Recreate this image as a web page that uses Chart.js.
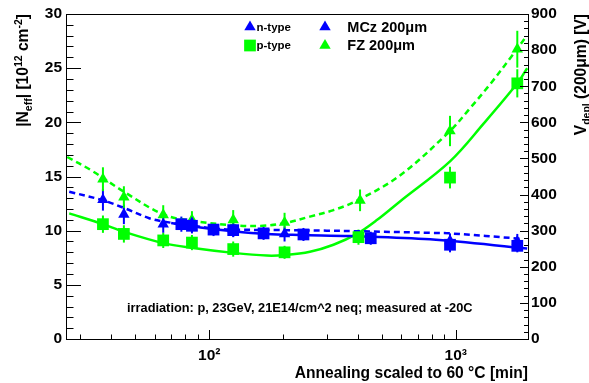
<!DOCTYPE html>
<html>
<head>
<meta charset="utf-8">
<script src="https://cdn.jsdelivr.net/npm/chart.js@4.4.1/dist/chart.umd.min.js"></script>
<style>
  html, body { margin: 0; padding: 0; background: #fff; }
</style>
</head>
<body>
<canvas id="chart" width="589" height="383"></canvas>
<script>
const BLUE = "#0000ff";
const GREEN = "#00ff00";
const FONT = "'Liberation Sans', Arial, Helvetica, sans-serif";

// measured points: annealing time [min], |Neff| [1e12 cm^-2], error
const nFzTime = [37, 45, 65, 85, 125, 202, 409, 948, 1778];
const nFzNeff = [14.75, 13.1, 11.45, 11.0, 11.0, 10.75, 12.8, 19.2, 26.75];
const nFzErr  = [1.1, 1.0, 0.9, 0.8, 0.9, 0.9, 1.0, 1.4, 1.7];

const pFzTime = [37, 45, 65, 85, 125, 202, 403, 948, 1778];
const pFzNeff = [10.6, 9.7, 9.1, 8.9, 8.3, 8.0, 9.4, 14.9, 23.6];
const pFzErr  = [0.8, 0.8, 0.7, 0.7, 0.7, 0.6, 0.7, 1.0, 1.3];

const nMczTime = [37, 45, 65, 85, 125, 202, 948, 1778];
const nMczNeff = [12.85, 11.5, 10.6, 10.7, 10.1, 9.7, 9.05, 9.0];
const nMczErr  = [1.0, 0.9, 0.8, 0.8, 0.7, 0.7, 0.7, 0.7];

const pMczTime = [77, 85, 104, 125, 166, 241, 452, 948, 1778];
const pMczNeff = [10.6, 10.45, 10.1, 10.05, 9.75, 9.65, 9.3, 8.7, 8.6];
const pMczErr  = [0.7, 0.7, 0.6, 0.6, 0.6, 0.6, 0.6, 0.7, 0.6];

// fit curves
const nFzFitTime = [26.5, 33, 45, 65, 86, 125, 165, 203, 256, 319, 400, 594, 948, 1143, 1377, 1687, 1900];
const nFzFitNeff = [16.8, 15.6, 13.6, 11.5, 10.9, 10.5, 10.45, 10.7, 11.3, 11.9, 12.8, 15.1, 19.2, 21.3, 23.5, 26.1, 27.7];

const pFzFitTime = [27, 37, 45, 65, 86, 125, 171, 203, 256, 319, 397, 480, 594, 948, 1300, 1778, 1950];
const pFzFitNeff = [11.6, 10.6, 9.9, 8.85, 8.4, 7.95, 7.7, 7.75, 8.05, 8.7, 9.7, 11.0, 12.7, 16.4, 19.9, 23.6, 25.0];

const nMczFitTime = [27, 37, 45, 57, 65, 86, 104, 125, 200, 300, 400, 800, 948, 1850];
const nMczFitNeff = [13.6, 12.8, 12.1, 11.15, 10.85, 10.45, 10.2, 10.1, 10.05, 10.0, 9.95, 9.8, 9.75, 9.25];

const pMczFitTime = [70, 92, 125, 171, 233, 372, 787, 1950];
const pMczFitNeff = [10.7, 10.3, 9.95, 9.7, 9.6, 9.5, 9.2, 8.35];

// x tick positions (log axis), labels only on the decades
const xTickValues = [30, 40, 50, 60, 70, 80, 90, 100, 200, 300, 400, 500, 600, 700, 800, 900, 1000];
const xTickLabels = { 100: "10\u00b2", 1000: "10\u00b3" };

const pts = (xs, ys) => xs.map((x, i) => ({ x: x, y: ys[i] }));

function pointSet(xs, ys, errs, color, style, order) {
  return {
    data: pts(xs, ys),
    errors: errs,
    showLine: false,
    pointStyle: style,
    pointRadius: style === "rect" ? 8.3 : 6.6,
    backgroundColor: color,
    borderColor: color,
    pointBorderWidth: 0,
    order: order,
  };
}

function fitSet(xs, ys, color, dashed) {
  return {
    data: pts(xs, ys),
    showLine: true,
    pointRadius: 0,
    borderColor: color,
    borderWidth: 2.5,
    borderDash: dashed ? [6, 4] : [],
    tension: 0.35,
    order: 3,
  };
}

function drawRich(ctx, parts, x, y, rot) {
  // parts: [text, size, dy]; text is right-aligned at (x, y) in rotated frame
  ctx.save();
  ctx.translate(x, y);
  ctx.rotate(rot);
  ctx.fillStyle = "#000";
  ctx.textBaseline = "alphabetic";
  let w = 0;
  parts.forEach(p => { ctx.font = `bold ${p[1]}px ${FONT}`; w += ctx.measureText(p[0]).width; });
  let cx = -w;
  parts.forEach(p => {
    ctx.font = `bold ${p[1]}px ${FONT}`;
    ctx.fillText(p[0], cx, p[2]);
    cx += ctx.measureText(p[0]).width;
  });
  ctx.restore();
}

function marker(ctx, style, x, y, color) {
  ctx.fillStyle = color;
  ctx.beginPath();
  if (style === "rect") {
    const s = 8.3 * Math.SQRT1_2;
    ctx.rect(x - s, y - s, 2 * s, 2 * s);
  } else {
    const r = 6.6;
    ctx.moveTo(x, y - r);
    ctx.lineTo(x + r * 0.866, y + r * 0.5);
    ctx.lineTo(x - r * 0.866, y + r * 0.5);
    ctx.closePath();
  }
  ctx.fill();
}

const errorBars = {
  id: "errorBars",
  beforeDatasetsDraw(chart) {
    const ctx = chart.ctx;
    const xs = chart.scales.x, ys = chart.scales.y;
    chart.data.datasets.forEach(ds => {
      if (!ds.errors) return;
      ctx.save();
      ctx.strokeStyle = ds.backgroundColor;
      ctx.lineWidth = 2;
      ds.data.forEach((p, i) => {
        const px = xs.getPixelForValue(p.x);
        ctx.beginPath();
        ctx.moveTo(px, ys.getPixelForValue(p.y - ds.errors[i]));
        ctx.lineTo(px, ys.getPixelForValue(p.y + ds.errors[i]));
        ctx.stroke();
      });
      ctx.restore();
    });
  }
};

const frameAndText = {
  id: "frameAndText",
  afterDraw(chart) {
    const ctx = chart.ctx;
    const a = chart.chartArea;
    const xs = chart.scales.x, ys = chart.scales.y, y2 = chart.scales.y2;
    ctx.save();
    ctx.strokeStyle = "#000";
    ctx.lineWidth = 1;
    ctx.strokeRect(Math.round(a.left) + 0.5, Math.round(a.top) + 0.5,
                   Math.round(a.right - a.left), Math.round(a.bottom - a.top));
    ctx.beginPath();
    for (let v = 0; v <= 30; v++) {
      const py = Math.round(ys.getPixelForValue(v)) + 0.5;
      const len = v % 5 === 0 ? 15 : 7.5;
      ctx.moveTo(a.left, py); ctx.lineTo(a.left + len, py);
    }
    for (let v = 0; v <= 900; v += 20) {
      const py = Math.round(y2.getPixelForValue(v)) + 0.5;
      const len = v % 100 === 0 ? 8 : 4;
      ctx.moveTo(a.right, py); ctx.lineTo(a.right - len, py);
    }
    xTickValues.forEach(v => {
      const px = Math.round(xs.getPixelForValue(v)) + 0.5;
      const len = xTickLabels[v] ? 9 : 4.5;
      ctx.moveTo(px, a.bottom); ctx.lineTo(px, a.bottom - len);
    });
    ctx.stroke();

    // axis titles
    ctx.fillStyle = "#000";
    ctx.font = `bold 15.6px ${FONT}`;
    ctx.textAlign = "right";
    ctx.textBaseline = "alphabetic";
    ctx.fillText("Annealing scaled to 60 \u00b0C [min]", a.right, 377.5);
    ctx.textAlign = "left";
    drawRich(ctx, [["|N", 15.6, 0], ["eff", 10.5, 4], ["| [10", 15.6, 0], ["12", 10.5, -6.5],
                   [" cm", 15.6, 0], ["-2", 10.5, -6.5], ["]", 15.6, 0]], 28, a.top, -Math.PI / 2);
    drawRich(ctx, [["V", 15.6, 0], ["depl", 10.5, 4], [" (200\u03bcm) [V]", 15.6, 0]], 586, a.top, -Math.PI / 2);

    // legend
    marker(ctx, "triangle", 250, 27, BLUE);
    marker(ctx, "rect", 250, 45.5, GREEN);
    marker(ctx, "triangle", 325, 27, BLUE);
    marker(ctx, "triangle", 325, 45.5, GREEN);
    ctx.fillStyle = "#000";
    ctx.font = `bold 11.5px ${FONT}`;
    ctx.fillText("n-type", 256.5, 30.5);
    ctx.fillText("p-type", 256.5, 49);
    ctx.font = `bold 14.5px ${FONT}`;
    ctx.fillText("MCz 200\u03bcm", 347.3, 31.7);
    ctx.fillText("FZ 200\u03bcm", 347.3, 50);

    ctx.font = `bold 12.8px ${FONT}`;
    ctx.fillText("irradiation: p, 23GeV, 21E14/cm^2 neq; measured at -20C", 127, 312);
    ctx.restore();
  }
};

const tickFont = { family: FONT, size: 15.5, weight: "bold" };

new Chart(document.getElementById("chart"), {
  type: "scatter",
  data: {
    datasets: [
      pointSet(nMczTime, nMczNeff, nMczErr, BLUE, "triangle", 0),
      pointSet(pMczTime, pMczNeff, pMczErr, BLUE, "rect", 0),
      pointSet(nFzTime, nFzNeff, nFzErr, GREEN, "triangle", 1),
      pointSet(pFzTime, pFzNeff, pFzErr, GREEN, "rect", 1),
      fitSet(nMczFitTime, nMczFitNeff, BLUE, true),
      fitSet(pMczFitTime, pMczFitNeff, BLUE, false),
      fitSet(nFzFitTime, nFzFitNeff, GREEN, true),
      fitSet(pFzFitTime, pFzFitNeff, GREEN, false),
    ]
  },
  options: {
    responsive: false,
    animation: false,
    layout: { padding: { top: 14, left: 0, right: 0, bottom: 0 } },
    plugins: { legend: { display: false }, tooltip: { enabled: false } },
    scales: {
      x: {
        type: "logarithmic",
        min: 26.2,
        max: 1965,
        afterBuildTicks: (axis) => { axis.ticks = xTickValues.map(v => ({ value: v })); },
        afterFit: (s) => { s.height = 44; },
        grid: { display: false, drawTicks: false },
        border: { display: false },
        ticks: {
          autoSkip: false, maxRotation: 0, padding: 7, color: "#000", font: tickFont,
          callback: (v) => xTickLabels[v] || "",
        },
      },
      y: {
        position: "left",
        min: 0, max: 30,
        afterFit: (s) => { s.width = 66; },
        grid: { display: false, drawTicks: false },
        border: { display: false },
        ticks: { stepSize: 5, padding: 4, color: "#000", font: tickFont },
      },
      y2: {
        position: "right",
        min: 0, max: 900,
        afterFit: (s) => { s.width = 61; },
        grid: { display: false, drawTicks: false },
        border: { display: false },
        ticks: { stepSize: 100, padding: 3, color: "#000", font: tickFont },
      },
    },
  },
  plugins: [errorBars, frameAndText],
});
</script>
</body>
</html>
